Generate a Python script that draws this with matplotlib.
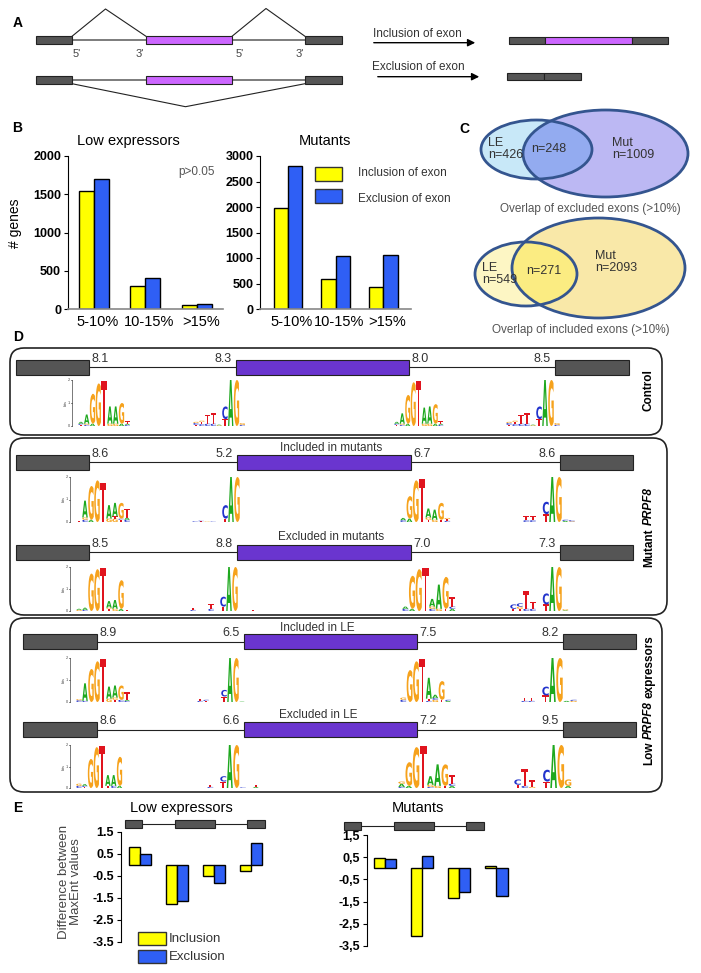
import matplotlib
matplotlib.use('Agg')
import numpy as np
import matplotlib.pyplot as plt
from matplotlib.patches import Rectangle, Ellipse, FancyBboxPatch, PathPatch
from matplotlib.textpath import TextPath
from matplotlib.font_manager import FontProperties
from matplotlib.transforms import Affine2D

plt.rcParams['font.family'] = ['Liberation Sans', 'DejaVu Sans']

# ---- panel B: number of genes per splicing-change bin
bin_labels = ['5-10%', '10-15%', '>15%']
le_incl = [1540, 300, 50]
le_excl = [1700, 400, 70]
mut_incl = [1990, 580, 440]
mut_excl = [2810, 1040, 1050]

# ---- panel C: venn counts (LE only, overlap, Mut only)
excl_counts = [426, 248, 1009]
incl_counts = [549, 271, 2093]

# ---- panel D: MaxEnt scores (5'ss, 3'ss, 5'ss, 3'ss)
ctrl_scores = [8.1, 8.3, 8.0, 8.5]
mut_inc_scores = [8.6, 5.2, 6.7, 8.6]
mut_exc_scores = [8.5, 8.8, 7.0, 7.3]
le_inc_scores = [8.9, 6.5, 7.5, 8.2]
le_exc_scores = [8.6, 6.6, 7.2, 9.5]

# sequence logos: one string per position, letters bottom -> top with bits
ctrl_logos = [
    ["T.05 C.05 A.08", "C.05 G.05 A.4", "A.1 G1.3", "G1.85", "T1.95", "G.1 A.75", "G.1 A.75", "A.1 G.9", "C.05 A.05 T.1"],
    ["T.05 C.08 G.05", "C.08 T.1 G.05", "C.1 T.4", "C.1 T.45", "G.03 A.03", "T.3 C.55", "A2", "G2", "C.05 G.08"],
    ["T.05 C.05 A.08", "C.05 G.05 A.45", "A.1 G1.25", "G1.9", "T1.95", "G.1 A.7", "G.1 A.75", "A.1 G.85", "C.05 A.05 T.1"],
    ["T.05 C.08 G.05", "C.08 T.1 G.05", "C.1 T.4", "C.1 T.45", "G.03 A.03", "T.3 C.55", "A2", "G2", "C.05 G.08"],
]
mut_inc_logos = [
    ["T.05", "C.1 G.1 A.75", "A.1 G1.5", "G1.85", "T1.75", "G.15 A.6", "G.15 T.1 A.6", "T.1 C.05 G.7", "C.1 A.1 T.4"],
    ["C.03 T.03", "T.03 C.03", "G.02", "C.02", "", "T.15 C.6", "A2", "G2"],
    ["C.08 A.1", "A.15 G1.0", "G1.85", "T1.9", "T.1 G.1 A.4", "G.1 A.45", "T.1 G.75", "C.05 T.08 G.05"],
    ["C.08 T.2", "C.08 T.2", "", "T.35 C.55", "A2", "G2", "A.05 C.05", "G.03 C.05"],
]
mut_exc_logos = [
    ["G.05 A.05", "C.05 A.1", "G1.7", "G1.9", "T1.95", "T.1 G.05 A.3", "G.1 A.4", "A.1 G1.3", "T.03"],
    ["C.05 T.1", "", "", "C.1 T.2", "", "T.2 C.45", "A2", "G2", "", "", "T.05"],
    ["C.1 A.1", "A.1 G1.5", "G1.9", "T1.95", "C.1 G.1 A.35", "G.1 A1.1", "T.1 G1.45", "A.1 C.1 T.45"],
    ["T.1 C.2", "T.1 G.1 C.15", "C.1 T.8", "C.1 T.3", "", "T.3 C.5", "A2", "G2", "A.03 G.05"],
]
le_inc_logos = [
    ["C.08 G.05", "C.05 A.8", "G1.5", "G1.85", "T1.95", "G.15 A.55", "T.1 G.1 A.55", "C.1 G.65", "C.05 A.05 T.35"],
    ["C.05 T.1", "T.05 C.05", "", "", "T.25 C.3", "A2", "G2", "A.02"],
    ["C.1 G.1", "G1.45", "G1.85", "T1.95", "C.05 T.1 A.95", "G.1 C.08 A.15", "T.1 G.85", "A.05 C.05"],
    ["C.05 T.15", "C.05 T.15", "", "T.3 C.4", "A2", "G2", "A.05", "G.05 C.05"],
]
le_exc_logos = [
    ["C.1 G.1", "T.05 C.05 A.08", "G1.35", "G1.9", "T1.95", "T.1 A.5", "C.1 A.5", "A.1 G1.35"],
    ["C.05 T.1", "", "T.3 C.25", "A2", "G2", "C.03", "", "A.05 T.1"],
    ["C.05 A.15 G.1", "A.1 G1.1", "G1.9", "T1.95", "C.05 G.1 A.4", "G.1 A1.0", "T.1 G1.0", "A.1 C.1 T.4"],
    ["T.15 C.25", "C.1 T.8", "G.05 T.3", "", "T.3 C.55", "A2", "G2", "A.1 G.3"],
]

# ---- panel E: difference between MaxEnt values
diff_le_incl = [0.82, -1.76, -0.5, -0.27]
diff_le_excl = [0.52, -1.64, -0.8, 1.02]
diff_mut_incl = [0.45, -3.03, -1.36, 0.12]
diff_mut_excl = [0.41, 0.56, -1.09, -1.24]

YELLOW = '#ffff00'
BLUE = '#2f5ff5'
DARK = '#555555'
MAGENTA = '#cc66ff'
PURPLE = '#6a35cf'
LETTER_COLORS = {'A': '#1ea81e', 'C': '#2233cc', 'G': '#f6a21c', 'T': '#e0141e'}

W, H = 701, 973
fig = plt.figure(figsize=(W / 100, H / 100), dpi=100)
ax = fig.add_axes([0, 0, 1, 1])
ax.set_xlim(0, W)
ax.set_ylim(H, 0)
ax.axis('off')
renderer = fig.canvas.get_renderer()


def px_axes(x0, y0, x1, y1):
    return fig.add_axes([x0 / W, 1 - y1 / H, (x1 - x0) / W, (y1 - y0) / H])


def box(x0, x1, yc, h, color, ec='#222222', lw=0.8):
    ax.add_patch(Rectangle((x0, yc - h / 2), x1 - x0, h, fc=color, ec=ec, lw=lw, zorder=3))


for lab, (x, y) in zip('ABCDE', [(18, 23), (17, 128), (464, 129), (18, 337), (18, 808)]):
    ax.text(x, y, lab, fontsize=10, fontweight='bold', ha='center', va='center')

# ================= A =================
for yc in (40, 80):
    ax.plot([72, 305], [yc, yc], color='#666666', lw=1.2, zorder=2)
    box(36, 72, yc, 7.5, DARK)
    box(146, 232, yc, 7.5, MAGENTA)
    box(305, 342, yc, 7.5, DARK)
ax.plot([72, 105.5, 146], [36.3, 9, 36.3], color='#222222', lw=0.8)
ax.plot([232, 266, 305], [36.3, 8.5, 36.3], color='#222222', lw=0.8)
ax.plot([72, 185.5, 305], [83.7, 106.7, 83.7], color='#222222', lw=0.8)
for x, s in zip([77, 139.5, 240, 299.5], ["5'", "3'", "5'", "3'"]):
    ax.text(x, 54, s, fontsize=8, color='#444444', ha='center', va='center')
ax.text(373, 34.3, 'Inclusion of exon', fontsize=8.5, color='#333333', va='center')
ax.text(372, 66.7, 'Exclusion of exon', fontsize=8.5, color='#333333', va='center')
for x0, x1, y in [(371, 478, 42.7), (375, 482, 76.7)]:
    ax.annotate('', xy=(x1, y), xytext=(x0, y),
                arrowprops=dict(arrowstyle='-|>', color='black', lw=1, mutation_scale=11))
box(509, 545, 40.8, 7, DARK)
box(545, 632, 40.8, 7, MAGENTA)
box(632, 668, 40.8, 7, DARK)
box(507, 544, 76.3, 7, DARK)
box(544, 581, 76.3, 7, DARK)

# ================= B =================
def bar_panel(axb, incl, excl, ymax, step, xlim, w):
    x = np.arange(len(incl))
    axb.bar(x - w / 2, incl, w, color=YELLOW, edgecolor='black', lw=1)
    axb.bar(x + w / 2, excl, w, color=BLUE, edgecolor='black', lw=1)
    axb.set_xlim(*xlim)
    axb.set_ylim(0, ymax)
    axb.set_yticks(np.arange(0, ymax + 1, step))
    axb.set_yticklabels([str(v) for v in np.arange(0, ymax + 1, step)], fontweight='bold', fontsize=9)
    axb.set_xticks(x + 0.08)
    axb.set_xticklabels(bin_labels, fontsize=10.5)
    axb.tick_params(axis='x', length=0, pad=4)
    axb.tick_params(axis='y', length=3, width=0.8, pad=2)
    for s in ('top', 'right'):
        axb.spines[s].set_visible(False)
    axb.spines['left'].set_linewidth(0.8)
    axb.spines['bottom'].set_color('#888888')
    axb.spines['bottom'].set_linewidth(1.2)
    axb.patch.set_alpha(0)


axB1 = px_axes(68, 156, 222.5, 309)
bar_panel(axB1, le_incl, le_excl, 2000, 500, (-0.5, 2.5), 0.29)
axB2 = px_axes(260.3, 156, 411, 309)
bar_panel(axB2, mut_incl, mut_excl, 3000, 500, (-0.58, 2.58), 0.30)

ax.text(128, 141, 'Low expressors', fontsize=10.5, ha='center', va='center')
ax.text(325, 141, 'Mutants', fontsize=10.5, ha='center', va='center')
ax.text(15, 223, '# genes', fontsize=10, rotation=90, ha='center', va='center')
ax.text(197, 172, 'p>0.05', fontsize=8.5, color='#555555', ha='center', va='center')
ax.add_patch(Rectangle((315, 167), 27, 14, fc=YELLOW, ec='#333333', lw=1))
ax.add_patch(Rectangle((315, 188.5), 27, 14, fc=BLUE, ec='#333333', lw=1))
ax.text(358, 173, 'Inclusion of exon', fontsize=8.5, color='#333333', va='center')
ax.text(358, 199, 'Exclusion of exon', fontsize=8.5, color='#333333', va='center')

# ================= C =================
EDGE_C = '#34558f'


def venn(le_c, le_wh, mut_c, mut_wh, colors, counts, pos, caption, cap_xy):
    le = Ellipse(le_c, *le_wh, fc=colors[0], ec='none', zorder=2)
    mut = Ellipse(mut_c, *mut_wh, fc=colors[2], ec='none', zorder=2)
    ax.add_patch(le)
    ax.add_patch(mut)
    mid = Ellipse(le_c, *le_wh, fc=colors[1], ec='none', zorder=3)
    ax.add_patch(mid)
    mid.set_clip_path(Ellipse(mut_c, *mut_wh, transform=ax.transData))
    ax.add_patch(Ellipse(mut_c, *mut_wh, fc='none', ec=EDGE_C, lw=2, zorder=4))
    ax.add_patch(Ellipse(le_c, *le_wh, fc='none', ec=EDGE_C, lw=2, zorder=4))
    (lx, ly), (bx, by), (mx, my) = pos
    ax.text(lx, ly, 'LE', fontsize=9, color='#333333', va='center', zorder=5)
    ax.text(lx, ly + 12, 'n=%d' % counts[0], fontsize=9, color='#333333', va='center', zorder=5)
    ax.text(bx, by, 'n=%d' % counts[1], fontsize=9, color='#333333', ha='center', va='center', zorder=5)
    ax.text(mx, my, 'Mut', fontsize=9, color='#333333', va='center', zorder=5)
    ax.text(mx, my + 12, 'n=%d' % counts[2], fontsize=9, color='#333333', va='center', zorder=5)
    ax.text(*cap_xy, caption, fontsize=8.5, color='#555555', ha='center', va='center')


venn((536.5, 149.5), (111, 59), (605.5, 153.5), (165, 87),
     ['#c8e8f8', '#93abf0', '#bcb8f3'], excl_counts,
     [(488, 143), (549, 149), (612, 143)],
     'Overlap of excluded exons (>10%)', (590, 209))
venn((526, 274), (102, 64), (598.5, 268), (173, 100),
     ['#fdf6c4', '#fbec82', '#f9e8a8'], incl_counts,
     [(482, 268), (544, 271), (595, 256)],
     'Overlap of included exons (>10%)', (581, 330))

# ================= D =================
LOGO_FP = FontProperties(family='DejaVu Sans', weight='bold')
glyphs = {c: TextPath((0, 0), c, size=1, prop=LOGO_FP) for c in 'ACGT'}


def draw_letter(ch, x, ybot, w, h):
    p = glyphs[ch]
    e = p.get_extents()
    t = Affine2D().translate(-e.x0, -e.y0).scale(w / e.width, -h / e.height).translate(x, ybot)
    ax.add_patch(PathPatch(t.transform_path(p), fc=LETTER_COLORS[ch], ec='none', lw=0, zorder=4))


def draw_logo(cols, x0, cw, ybot, ppb):
    for i, spec in enumerate(cols):
        y = ybot
        for item in spec.split():
            h = float(item[1:]) * ppb
            draw_letter(item[0], x0 + i * cw + cw * 0.04, y, cw * 0.92, h)
            y -= h


def logo_axis(x, ybot, ppb):
    ax.plot([x, x], [ybot, ybot - 2 * ppb], color='#444444', lw=0.5)
    for k in range(3):
        yy = ybot - k * ppb
        ax.plot([x - 1.5, x], [yy, yy], color='#444444', lw=0.5)
        ax.text(x - 2.5, yy, str(k), fontsize=2.8, ha='right', va='center', color='#444444')
    ax.text(x - 6, ybot - ppb, 'bits', fontsize=2.8, rotation=90, ha='center', va='center', color='#444444')


d_rows = [
    (ctrl_scores, ctrl_logos, 367, (16, 88.5, 235.5, 409, 555, 629), None, None, 426, 23,
     [(78, 5.8), (193, 5.8), (394, 5.5), (506, 6)]),
    (mut_inc_scores, mut_inc_logos, 462, (16, 89, 237, 411, 560, 633), 'Included in mutants', (331, 448), 522, 22.5,
     [(76, 6), (192, 6), (400, 6.3), (523, 6.5)]),
    (mut_exc_scores, mut_exc_logos, 552, (16, 89, 237, 411, 560, 633), 'Excluded in mutants', (331, 537), 611, 22,
     [(76, 6), (190, 6), (402, 6.7), (510, 6.5)]),
    (le_inc_scores, le_inc_logos, 641.5, (23, 97, 244, 417, 563, 636), 'Included in LE', (317, 628), 702, 22,
     [(76, 6), (197, 6), (400, 6.4), (521, 7)]),
    (le_exc_scores, le_exc_logos, 729.5, (23, 97, 244, 417, 563, 636), 'Excluded in LE', (318, 715), 788, 21.5,
     [(76, 5.8), (207, 6.5), (398, 7.2), (514, 7.2)]),
]

for scores, logos, yc, (g0, g1, p0, p1, r0, r1), title, txy, base, ppb, lpos in d_rows:
    ax.plot([g1, r0], [yc, yc], color='#222222', lw=0.8, zorder=2)
    box(g0, g1, yc, 15, DARK)
    box(p0, p1, yc, 15, PURPLE)
    box(r0, r1, yc, 15, DARK)
    ty = yc - 8
    kw = dict(fontsize=9, color='#333333', va='center')
    ax.text(g1 + 3, ty, '%.1f' % scores[0], ha='left', **kw)
    ax.text(p0 - 4, ty, '%.1f' % scores[1], ha='right', **kw)
    ax.text(p1 + 2, ty, '%.1f' % scores[2], ha='left', **kw)
    ax.text(r0 - 4, ty, '%.1f' % scores[3], ha='right', **kw)
    if title:
        ax.text(txy[0], txy[1], title, fontsize=8.5, color='#333333', ha='center', va='center')
    for cols, (lx, cw) in zip(logos, lpos):
        draw_logo(cols, lx, cw, base, ppb)
    logo_axis(lpos[0][0] - 6, base, ppb)

for (x0, y0, x1, y1) in [(10, 348, 662, 435), (10, 438, 667, 615), (10, 618, 662, 792)]:
    ax.add_patch(FancyBboxPatch((x0, y0), x1 - x0, y1 - y0, boxstyle='round,pad=0,rounding_size=14',
                                fc='none', ec='#222222', lw=1.2, zorder=5))

side = dict(fontsize=8.5, fontweight='bold', rotation=90, ha='center', va='center')


def stacked_label(x, yc, pieces, gap=3):
    # rotated words read bottom -> top; measure each to stack them
    texts = [ax.text(x, yc, s, style=st, **side) for s, st in pieces]
    sizes = [t.get_window_extent(renderer).height for t in texts]
    y = yc + (sum(sizes) + gap * (len(sizes) - 1)) / 2
    for t, h in zip(texts, sizes):
        t.set_y(y - h / 2)
        y -= h + gap


stacked_label(649, 390, [('Control', 'normal')])
stacked_label(649, 527, [('Mutant', 'normal'), ('PRPF8', 'italic')])
stacked_label(649, 700, [('Low', 'normal'), ('PRPF8', 'italic'), ('expressors', 'normal')])

# ================= E =================
def diff_panel(axe, incl, excl, xlim, sep):
    x = np.arange(len(incl))
    w = 0.3
    axe.bar(x - w / 2, incl, w, color=YELLOW, edgecolor='black', lw=1)
    axe.bar(x + w / 2, excl, w, color=BLUE, edgecolor='black', lw=1)
    axe.set_xlim(*xlim)
    axe.set_ylim(-3.5, 1.5)
    ticks = [1.5, 0.5, -0.5, -1.5, -2.5, -3.5]
    axe.set_yticks(ticks)
    axe.set_yticklabels([('%.1f' % t).replace('.', sep) for t in ticks], fontweight='bold', fontsize=9)
    axe.tick_params(axis='y', length=3, width=0.8, pad=2)
    axe.set_xticks([])
    for s in ('top', 'right', 'bottom'):
        axe.spines[s].set_visible(False)
    axe.spines['left'].set_linewidth(0.8)
    axe.patch.set_alpha(0)


axE1 = px_axes(121, 832, 270, 942)
diff_panel(axE1, diff_le_incl, diff_le_excl, (-0.52, 3.52), '.')
axE2 = px_axes(367, 835, 515, 946)
diff_panel(axE2, diff_mut_incl, diff_mut_excl, (-0.49, 3.5), ',')

ax.text(181, 808, 'Low expressors', fontsize=10.5, ha='center', va='center')
ax.text(418, 808, 'Mutants', fontsize=10.5, ha='center', va='center')
for xs, yc in [((125, 142, 175, 215, 247, 265), 823.5), ((344, 361, 394, 434, 466, 484), 825.5)]:
    ax.plot([xs[1], xs[4]], [yc, yc], color='#222222', lw=0.8, zorder=2)
    box(xs[0], xs[1], yc, 8, DARK)
    box(xs[2], xs[3], yc, 8, DARK)
    box(xs[4], xs[5], yc, 8, DARK)

ax.text(70, 882, 'Difference between\nMaxEnt values', fontsize=9.5, color='#444444', rotation=90,
        ha='center', va='center', linespacing=1.05)
ax.add_patch(Rectangle((138, 932), 28, 13, fc=YELLOW, ec='#333333', lw=1))
ax.add_patch(Rectangle((138, 950), 28, 13, fc=BLUE, ec='#333333', lw=1))
ax.text(169, 939, 'Inclusion', fontsize=9.5, color='#333333', va='center')
ax.text(169, 957, 'Exclusion', fontsize=9.5, color='#333333', va='center')

fig.savefig('out.png', dpi=100)
